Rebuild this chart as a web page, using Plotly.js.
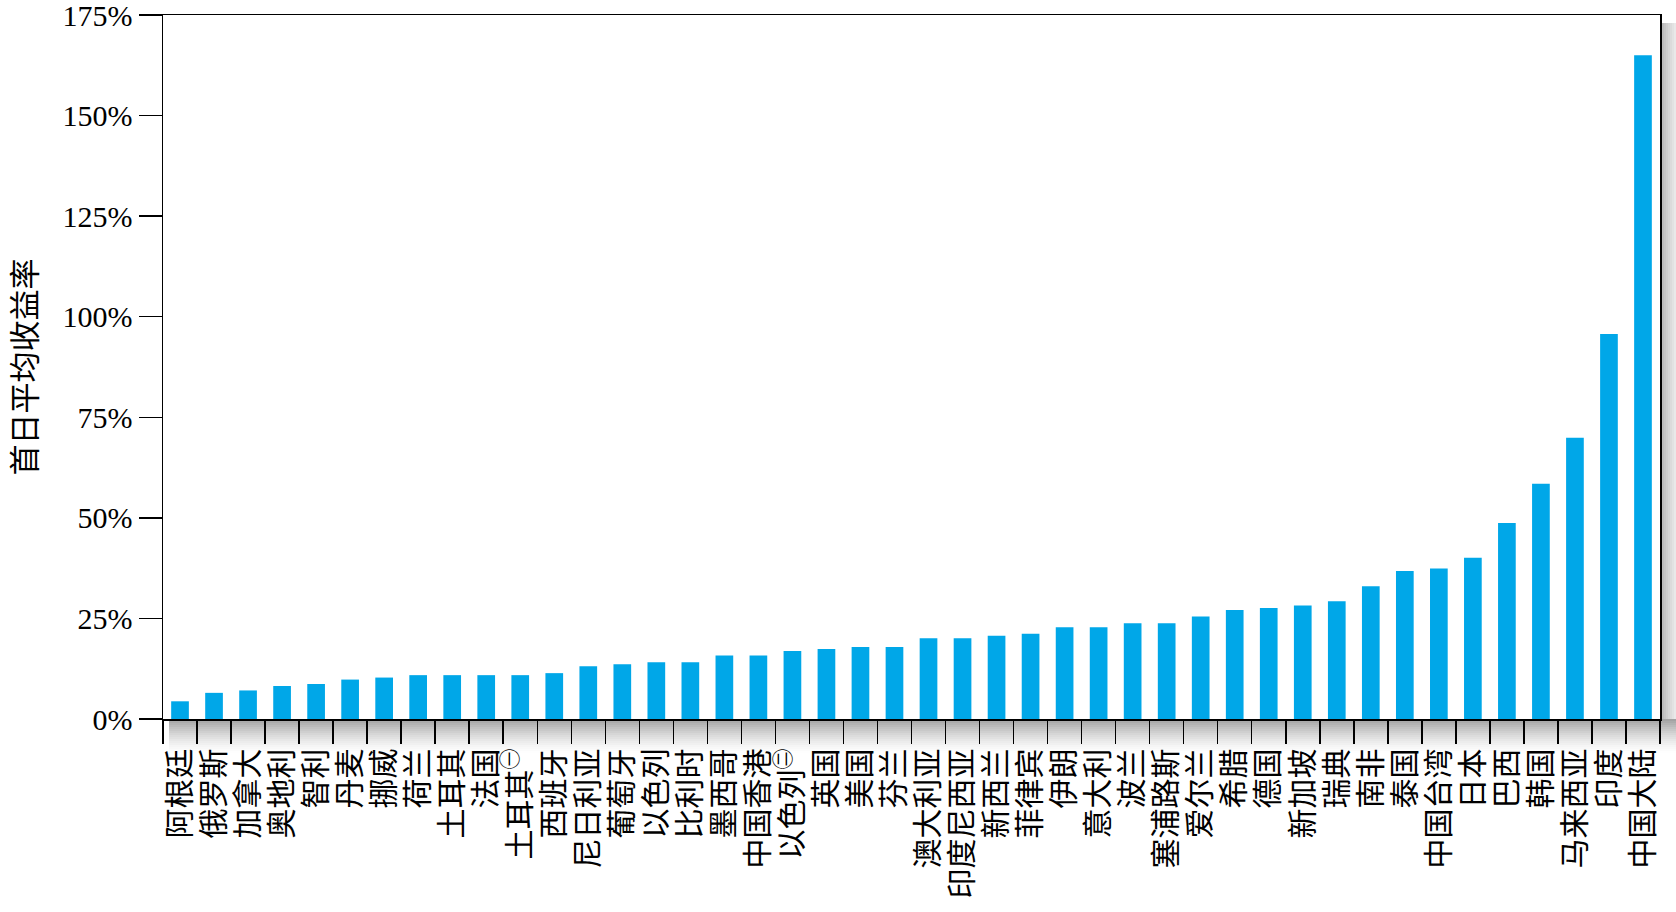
<!DOCTYPE html>
<html>
<head>
<meta charset="utf-8">
<script src="https://cdn.plot.ly/plotly-3.0.1.min.js"></script>
<style>
  html, body { margin: 0; padding: 0; background: #ffffff; }
  #chart { width: 1676px; height: 912px; }
</style>
</head>
<body>
<div id="chart"></div>
<script>
// Categories (countries / regions), in drawing order
const categories = [
  "阿根廷","俄罗斯","加拿大","奥地利","智利","丹麦","挪威","荷兰","土耳其","法国",
  "土耳其<sup>㊀</sup>","西班牙","尼日利亚","葡萄牙","以色列","比利时","墨西哥","中国香港","以色列<sup>㊁</sup>","英国",
  "美国","芬兰","澳大利亚","印度尼西亚","新西兰","菲律宾","伊朗","意大利","波兰","塞浦路斯",
  "爱尔兰","希腊","德国","新加坡","瑞典","南非","泰国","中国台湾","日本","巴西",
  "韩国","马来西亚","印度","中国大陆"
];

// First-day average return (%)
const firstDayReturn = [
  4.4, 6.5, 7.1, 8.2, 8.7, 9.8, 10.3, 10.9, 10.9, 10.9,
  10.9, 11.4, 13.1, 13.6, 14.1, 14.1, 15.8, 15.8, 16.9, 17.4,
  17.9, 17.9, 20.1, 20.1, 20.7, 21.2, 22.8, 22.8, 23.8, 23.8,
  25.5, 27.1, 27.6, 28.2, 29.3, 33.0, 36.8, 37.4, 40.1, 48.7,
  58.5, 69.9, 95.7, 165.0
];

// Y-axis ticks
const yTickVals = [0, 25, 50, 75, 100, 125, 150, 175];
const yTickText = yTickVals.map(v => v + "%");
const yTitle = "首日平均收益率";

// ---- layout geometry (pixels) ----
const W = 1676, H = 912;
const M = { l: 163, r: 16, t: 15, b: 193 };
const plotW = W - M.l - M.r;
const plotH = H - M.t - M.b;
const px2x = px => (px - M.l) / plotW;
const py2y = py => (H - M.b - py) / plotH;

// soft drop-shadow made of thin translucent strips (below and right of the frame)
const shadowShapes = [];
const axisY = H - M.b, frameR = M.l + plotW;
const nB = 17;
for (let i = 0; i < nB; i++) {
  const a = 0.36 * Math.pow(1 - i / nB, 1.5);
  shadowShapes.push({
    type: "rect", xref: "paper", yref: "paper", layer: "below",
    x0: px2x(M.l + 6), x1: px2x(W),
    y0: py2y(axisY + i * 2), y1: py2y(axisY + i * 2 + 2),
    fillcolor: "rgba(0,0,0," + a.toFixed(3) + ")", line: { width: 0 }
  });
}
const nR = 8;
for (let i = 0; i < nR; i++) {
  const a = 0.30 * Math.pow(1 - i / (nR + 4), 1.4);
  shadowShapes.push({
    type: "rect", xref: "paper", yref: "paper", layer: "below",
    x0: px2x(frameR + i * 2), x1: px2x(frameR + i * 2 + 2),
    y0: py2y(M.t + 8), y1: py2y(axisY),
    fillcolor: "rgba(0,0,0," + a.toFixed(3) + ")", line: { width: 0 }
  });
}

const trace = {
  type: "bar",
  x: categories,
  y: firstDayReturn,
  marker: { color: "#00A7E8", line: { width: 0 } },
  hoverinfo: "x+y"
};

const layout = {
  width: W,
  height: H,
  margin: M,
  paper_bgcolor: "#ffffff",
  plot_bgcolor: "#ffffff",
  showlegend: false,
  bargap: 0.48,
  shapes: shadowShapes,
  xaxis: {
    type: "category",
    tickmode: "linear",
    tick0: 0,
    dtick: 1,
    showline: true,
    linecolor: "#000000",
    linewidth: 1.5,
    mirror: true,
    ticks: "outside",
    tickson: "boundaries",
    ticklen: 23,
    tickwidth: 1.5,
    tickcolor: "#000000",
    tickangle: -90,
    ticklabelstandoff: 16,
    ticklabeloverflow: "allow",
    tickfont: { family: "Noto Sans CJK SC", size: 30, color: "#000000" },
    showgrid: false,
    zeroline: false,
    fixedrange: true
  },
  yaxis: {
    range: [0, 175],
    tickvals: yTickVals,
    ticktext: yTickText,
    showline: true,
    linecolor: "#000000",
    linewidth: 1.5,
    mirror: true,
    ticks: "outside",
    ticklen: 23,
    tickwidth: 1.5,
    tickcolor: "#000000",
    ticklabeloverflow: "allow",
    tickfont: { family: "Liberation Serif", size: 30, color: "#000000" },
    showgrid: false,
    zeroline: false,
    title: { text: yTitle, font: { family: "Noto Sans CJK SC", size: 31, color: "#000000" }, standoff: 27 },
    fixedrange: true
  }
};

Plotly.newPlot("chart", [trace], layout, { displayModeBar: false, staticPlot: true });
</script>
</body>
</html>
